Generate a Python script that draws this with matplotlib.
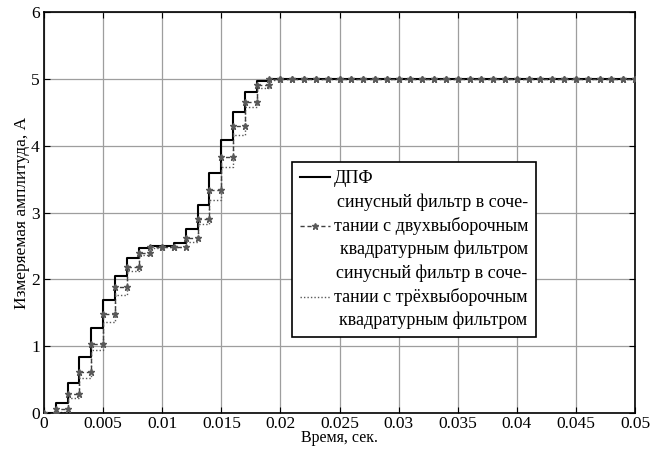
import numpy as np
import matplotlib
matplotlib.use("Agg")
import matplotlib.pyplot as plt

plt.rcParams['font.family'] = ['Liberation Serif', 'DejaVu Serif']

# Sample instants (1 kHz sampling, 0 ... 50 ms)
time_s = np.arange(51) * 0.001

# Measured amplitude after each sample, A
dft = [0.0, 0.15, 0.45, 0.84, 1.27, 1.69, 2.05, 2.32, 2.47, 2.50,
       2.50, 2.55, 2.75, 3.11, 3.59, 4.08, 4.51, 4.80, 4.96] + [5.0] * 32
sine_two = [0.0, 0.06, 0.29, 0.62, 1.03, 1.48, 1.88, 2.19, 2.39, 2.49,
            2.49, 2.49, 2.62, 2.91, 3.33, 3.83, 4.30, 4.66, 4.91] + [5.0] * 32
sine_three = [0.0, 0.02, 0.22, 0.53, 0.94, 1.36, 1.77, 2.13, 2.36, 2.47,
              2.49, 2.49, 2.56, 2.83, 3.19, 3.68, 4.16, 4.58, 4.86, 4.98] + [5.0] * 31

labels = ["ДПФ",
          "синусный фильтр в соче-\nтании с двухвыборочным\nквадратурным фильтром",
          "синусный фильтр в соче-\nтании с трёхвыборочным\nквадратурным фильтром"]

x_ticks = [0, 0.005, 0.01, 0.015, 0.02, 0.025, 0.03, 0.035, 0.04, 0.045, 0.05]
x_ticklabels = ["0", "0.005", "0.01", "0.015", "0.02", "0.025", "0.03",
                "0.035", "0.04", "0.045", "0.05"]
y_ticks = [0, 1, 2, 3, 4, 5, 6]


def stairs(t, y):
    """Corner points of a post-step staircase."""
    t = np.asarray(t)
    y = np.asarray(y)
    xs = np.repeat(t, 2)[1:]
    ys = np.repeat(y, 2)[:-1]
    return xs, ys


fig = plt.figure(figsize=(6.54, 4.59), dpi=100)
ax = fig.add_axes([0.0673, 0.100, 0.9037, 0.874])

ax.grid(True, color='0.62', linewidth=0.9, linestyle='-')
ax.set_axisbelow(True)

xs, ys = stairs(time_s, dft)
ax.plot(xs, ys, color='black', linewidth=1.5, label=labels[0], zorder=3)

xs, ys = stairs(time_s, sine_two)
ax.plot(xs, ys, color='0.25', linewidth=1.0, linestyle=(0, (3, 2)),
        marker='*', markersize=4.5, markerfacecolor='0.35',
        markeredgecolor='0.35', label=labels[1], zorder=4)

xs, ys = stairs(time_s, sine_three)
ax.plot(xs, ys, color='0.35', linewidth=1.0, linestyle=(0, (1, 1.5)),
        label=labels[2], zorder=2)

ax.set_xlim(0, 0.05)
ax.set_ylim(0, 6)
ax.set_xticks(x_ticks)
ax.set_xticklabels(x_ticklabels)
ax.set_yticks(y_ticks)
ax.tick_params(direction='in', length=4, top=True, right=True,
               labelsize=12.5, width=0.8)
ax.tick_params(axis='x', pad=2)
ax.tick_params(axis='y', pad=3)
for s in ax.spines.values():
    s.set_linewidth(1.2)

ax.set_xlabel("Время, сек.", fontsize=11.5, labelpad=-1)
ax.set_ylabel("Измеряемая амплитуда, А", fontsize=12.5, labelpad=1)

leg = ax.legend(loc='upper left', bbox_to_anchor=(0.42, 0.626),
                borderaxespad=0, fontsize=13, frameon=True, fancybox=False,
                framealpha=1, edgecolor='black', handlelength=1.65,
                handletextpad=0.2, borderpad=0.45, labelspacing=0.38)
leg.get_frame().set_linewidth(1.2)
for txt in leg.get_texts():
    txt.set_multialignment('right')
    txt.set_linespacing(1.4)

fig.savefig("out.png", dpi=100)
